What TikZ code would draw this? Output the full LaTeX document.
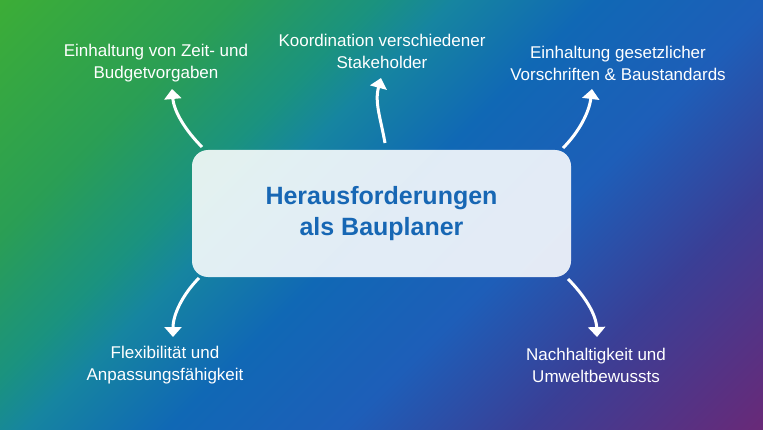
\documentclass[tikz,border=0pt]{standalone}
\usepackage{fontspec}
\setmainfont{Liberation Sans}
\usetikzlibrary{arrows.meta}
\definecolor{ga}{HTML}{3DAE35}
\definecolor{gb}{HTML}{2A9E55}
\definecolor{gc}{HTML}{1A9280}
\definecolor{gd}{HTML}{1685A0}
\definecolor{ge}{HTML}{1068B5}
\definecolor{gf}{HTML}{1E5EB8}
\definecolor{gg}{HTML}{3A3F96}
\definecolor{gh}{HTML}{6B2876}
\definecolor{titleblue}{HTML}{1767B4}
\begin{document}
\begin{tikzpicture}[x=1pt,y=1pt,
  lbl/.style={text=white, align=center, font=\fontsize{17}{22}\selectfont, inner sep=0pt},
  arr/.style={draw=white, line width=3pt, -{Triangle[width=17pt,length=10pt]}},
  box/.style={fill=white, fill opacity=0.88, text opacity=1, rounded corners=16pt,
    minimum width=379pt, minimum height=127pt, text=titleblue, align=center,
    font=\fontsize{25}{31}\selectfont\bfseries}]
\useasboundingbox (0,0) rectangle (763,429);
\begin{scope}
  \clip (0,0) rectangle (763,429);
  \begin{scope}[transform canvas={shift={(381.5,214.5)},rotate=-45}]
    \shade[left color=ga,right color=gb] (-430,-440) rectangle (-252.3,440);
    \shade[left color=gb,right color=gc] (-253.3,-440) rectangle (-151.2,440);
    \shade[left color=gc,right color=gd] (-152.2,-440) rectangle (-100.6,440);
    \shade[left color=gd,right color=ge] (-101.6,-440) rectangle (0.5,440);
    \shade[left color=ge,right color=gf] (-0.5,-440) rectangle (126.9,440);
    \shade[left color=gf,right color=gg] (125.9,-440) rectangle (253.3,440);
    \shade[left color=gg,right color=gh] (252.3,-440) rectangle (430,440);
  \end{scope}
\end{scope}

\node[box] (box) at (381.5,215.5) {Herausforderungen\\als Bauplaner};

\node[lbl] (l1) at (156,366) {Einhaltung von Zeit- und\\Budgetvorgaben};
\node[lbl] (l2) at (382,378) {Koordination verschiedener\\Stakeholder};
\node[lbl] (l3) at (618,366) {Einhaltung gesetzlicher\\Vorschriften \& Baustandards};
\node[lbl] (l4) at (165,63.5) {Flexibilität und\\Anpassungsfähigkeit};
\node[lbl] (l5) at (596,63.5) {Nachhaltigkeit und\\Umweltbewussts};

\coordinate (s1) at (202,282);
\coordinate (t1) at (172,340);
\coordinate (s2) at (385,286);
\coordinate (t2) at (381,351);
\coordinate (s3) at (563,281);
\coordinate (t3) at (592,340);
\coordinate (s4) at (199,151);
\coordinate (t4) at (173,92);
\coordinate (s5) at (568,150);
\coordinate (t5) at (597,92);

\draw[arr] (s1) to[out=135,in=-85,looseness=0.9] (t1);
\draw[arr] (s2) to[out=100,in=-105] (t2);
\draw[arr] (s3) to[out=45,in=-97,looseness=0.9] (t3);
\draw[arr] (s4) to[out=225,in=90,looseness=0.9] (t4);
\draw[arr] (s5) to[out=-45,in=92,looseness=0.9] (t5);
\end{tikzpicture}
\end{document}
